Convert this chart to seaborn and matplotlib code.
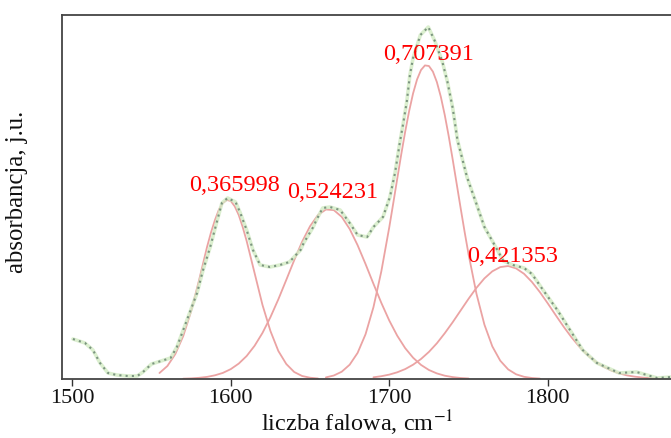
import matplotlib
matplotlib.use("Agg")
import matplotlib.pyplot as plt
import seaborn as sns
import pandas as pd

# Measured spectrum (wavenumber, absorbance in arbitrary units)
spec_x = [1500.4, 1508, 1513, 1517.5, 1522.5, 1528, 1535, 1541, 1544.6, 1550, 1556,
          1562, 1566, 1570, 1574, 1578.7, 1582.5, 1587, 1591, 1594.4, 1598, 1603,
          1606, 1610, 1614, 1618.5, 1624.7, 1631, 1637, 1644, 1646, 1652, 1654,
          1658, 1662.6, 1669, 1675, 1680, 1686, 1690, 1696, 1700.4, 1703.6, 1706.7,
          1708.6, 1711, 1713, 1715, 1719.6, 1724.6, 1729, 1733.5, 1736.7, 1740,
          1743, 1749, 1755, 1760, 1765, 1772, 1778, 1785, 1790, 1797, 1806, 1814,
          1822, 1831, 1845, 1856, 1869, 1878]
spec_y = [40, 36, 29, 16, 6, 4, 3, 3, 7, 15, 18,
          21, 32, 49, 66, 86, 109, 132, 156, 176, 181, 177,
          166, 149, 129, 114, 112, 114, 117, 129, 136, 152, 159,
          171, 172, 169, 156, 144, 142, 152, 162, 182, 206, 237,
          254, 277, 304, 321, 344, 352, 337, 317, 297, 271,
          239, 202, 175, 152, 138, 118, 114, 111, 105, 89, 69, 49,
          29, 16, 6, 7, 1, 2]

# Fitted component bands
b1_x = [1555, 1560, 1565, 1570, 1575, 1580, 1585, 1587.5, 1590, 1592.5, 1595,
        1597.5, 1600, 1602.5, 1605, 1607.5, 1610, 1615, 1620, 1625, 1630, 1635,
        1640, 1645, 1650, 1655]
b1_y = [6, 13, 25, 43, 68, 99, 132, 146.5, 159, 169.4, 176,
        179, 178, 172.6, 164, 152, 138, 106, 74, 48, 28, 15,
        7, 3, 1.3, 0.5]

b2_x = [1570, 1575, 1580, 1585, 1590, 1595, 1600, 1605, 1610, 1615, 1620, 1625,
        1630, 1635, 1640, 1645, 1650, 1655, 1660, 1665, 1670, 1675, 1680, 1685,
        1690, 1695, 1700, 1705, 1710, 1715, 1720, 1725, 1730, 1735, 1740, 1745, 1750]
b2_y = [0.3, 0.6, 1.2, 2.1, 3.7, 6.1, 9.9, 15.4, 23, 33.2, 46.1, 61.8,
        79.7, 99.1, 118.8, 137.3, 152.8, 164, 169.5, 168.9, 162.1, 150, 133.8, 115,
        95.2, 76, 58.4, 43.3, 30.9, 21.3, 14.1, 9, 5.6, 3.3, 1.9, 1.0, 0.5]

b3_x = [1660, 1665, 1670, 1675, 1680, 1685, 1690, 1695, 1700, 1702.5, 1705,
        1707.5, 1710, 1712.5, 1715, 1717.5, 1720, 1722.5, 1725, 1727.5, 1730,
        1732.5, 1735, 1737.5, 1740, 1742.5, 1745, 1747.5, 1750, 1755, 1760, 1765,
        1770, 1775, 1780, 1785, 1790, 1795]
b3_y = [1.6, 3.5, 7.3, 14.3, 26.1, 44.7, 71.8, 107.9, 151.9, 175.8, 200.2,
        224.3, 247.1, 267.8, 285.6, 299.5, 309, 313.6, 313, 307.4, 297,
        282.3, 263.9, 242.7, 219.5, 195.3, 171, 147.3, 124.7, 85.2, 54.4, 32.6,
        18.3, 9.6, 4.7, 2.2, 1.0, 0.4]

b4_x = [1690, 1695, 1700, 1705, 1710, 1715, 1720, 1725, 1730, 1735, 1740, 1745,
        1750, 1755, 1760, 1765, 1770, 1775, 1780, 1785, 1790, 1795, 1800, 1805,
        1810, 1815, 1820, 1825, 1830, 1835, 1840, 1845, 1850, 1855, 1860, 1865, 1870]
b4_y = [1.7, 2.8, 4.4, 6.7, 9.9, 14.3, 20, 27.1, 35.7, 45.8, 56.8, 68.5,
        80.2, 91.2, 100.6, 107.7, 111.9, 113, 110.6, 105.2, 97, 86.9, 75.6, 63.8,
        52.3, 41.6, 32.1, 24.1, 17.5, 12.4, 8.5, 5.6, 3.6, 2.3, 1.4, 0.8, 0.5]

label_text = ["0,365998", "0,524231", "0,707391", "0,421353"]
label_x = [1602.3, 1664.5, 1724.7, 1778]
label_y = [188, 181, 319, 117]

x_ticks = [1500, 1600, 1700, 1800]

sns.set_style("white")
plt.rcParams['font.family'] = ['Liberation Serif', 'DejaVu Serif']
plt.rcParams['mathtext.fontset'] = 'stix'

fig = plt.figure(figsize=(6.71, 4.38), dpi=100)
ax = fig.add_axes([62 / 671, 59 / 438, (685 - 62) / 671, 364 / 438])

red = "#eba3a3"
for bx, by in [(b1_x, b1_y), (b2_x, b2_y), (b3_x, b3_y), (b4_x, b4_y)]:
    sns.lineplot(x=bx, y=by, ax=ax, color=red, lw=1.3, estimator=None, sort=False)

spec = pd.DataFrame({"x": spec_x, "y": spec_y})
sns.lineplot(data=spec, x="x", y="y", ax=ax, color="#d3ebc4", lw=2.6,
             estimator=None, sort=False, alpha=0.8)
sns.lineplot(data=spec, x="x", y="y", ax=ax, color="#7b9480", lw=1.5,
             linestyle=(0, (1, 2.0)), estimator=None, sort=False)

for t, tx, ty in zip(label_text, label_x, label_y):
    ax.text(tx, ty, t, color="#ff0000", fontsize=17.5, ha="center", va="baseline")

ax.set_xlim(1493.5, 1500 + (685 - 72.3) / 1.585)
ax.set_ylim(0, 364)
ax.set_xticks(x_ticks)
ax.set_xticklabels([str(v) for v in x_ticks], fontsize=16, color="#111111")
ax.set_yticks([])
ax.tick_params(axis="x", direction="out", length=5, width=1, color="#333333",
               bottom=True, pad=2)
for s in ax.spines.values():
    s.set_color("#444444")
    s.set_linewidth(1.3)
ax.set_xlabel("")
ax.set_ylabel("")
fig.text(357 / 671, 1 - 431 / 438, "liczba falowa, cm$^{-1}$", fontsize=17.5,
         ha="center", va="baseline", color="#111111")
fig.text(17 / 671, 1 - 192 / 438, "absorbancja, j.u.", fontsize=17.8,
         ha="center", va="center", rotation=90, color="#111111")

fig.savefig("out.png", dpi=100)
